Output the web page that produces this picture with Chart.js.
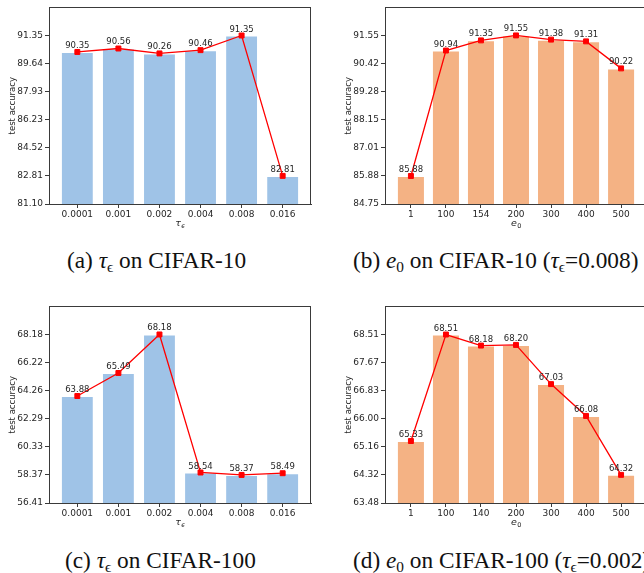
<!DOCTYPE html>
<html>
<head>
<meta charset="utf-8">
<script src="https://cdn.jsdelivr.net/npm/chart.js@4.4.1/dist/chart.umd.min.js"></script>
<style>
  body { margin: 0; background: #fff; width: 644px; height: 573px; overflow: hidden; position: relative; }
  canvas { position: absolute; }
  .cap { position: absolute; font-family: "Liberation Serif", serif; font-size: 23.3px; line-height: 22px; color: #111; white-space: nowrap; }
  .cap sub { font-size: 0.66em; vertical-align: -0.25em; line-height: 0; }
</style>
</head>
<body>
<canvas id="chartA" width="322" height="236" style="left:0;top:0"></canvas>
<canvas id="chartB" width="330" height="236" style="left:322px;top:0"></canvas>
<canvas id="chartC" width="322" height="236" style="left:0;top:299px"></canvas>
<canvas id="chartD" width="330" height="236" style="left:322px;top:299px"></canvas>

<div class="cap" style="left:67px;top:249px">(a) <i>τ</i><sub>ϵ</sub> on CIFAR-10</div>
<div class="cap" style="left:353px;top:249px">(b) <i>e</i><sub>0</sub> on CIFAR-10 (<i>τ</i><sub>ϵ</sub>=0.008)</div>
<div class="cap" style="left:65px;top:549px">(c) <i>τ</i><sub>ϵ</sub> on CIFAR-100</div>
<div class="cap" style="left:353px;top:549px">(d) <i>e</i><sub>0</sub> on CIFAR-100 (<i>τ</i><sub>ϵ</sub>=0.002)</div>

<script>
// ---- data ----
const tauLabels = ["0.0001", "0.001", "0.002", "0.004", "0.008", "0.016"];
const e0Labels10 = ["1", "100", "154", "200", "300", "400", "500"];
const e0Labels100 = ["1", "100", "140", "200", "300", "400", "500"];

const accTau10 = [90.35, 90.56, 90.26, 90.46, 91.35, 82.81];
const accE010 = [85.88, 90.94, 91.35, 91.55, 91.38, 91.31, 90.22];
const accTau100 = [63.88, 65.49, 68.18, 58.54, 58.37, 58.49];
const accE0100 = [65.33, 68.51, 68.18, 68.20, 67.03, 66.08, 64.32];

const ticksTau10 = [81.10, 82.81, 84.52, 86.23, 87.93, 89.64, 91.35];
const ticksE010 = [84.75, 85.88, 87.01, 88.15, 89.28, 90.42, 91.55];
const ticksTau100 = [56.41, 58.37, 60.33, 62.29, 64.26, 66.22, 68.18];
const ticksE0100 = [63.48, 64.32, 65.16, 66.00, 66.83, 67.67, 68.51];

const yMaxTau10 = 93.06;
const yMaxE010 = 92.68;
const yMaxTau100 = 70.14;
const yMaxE0100 = 69.35;

const BLUE = "#9fc3e7";
const ORANGE = "#f4b284";
const AXIS = "#3a3a3a";
const TEXT = "#262626";

// frame, value labels and axis titles
const panelPlugin = {
  id: "panel",
  afterDatasetsDraw(chart) {
    const ctx = chart.ctx;
    const meta = chart.getDatasetMeta(1);
    const vals = chart.data.datasets[1].data;
    ctx.save();
    ctx.font = '8.5px "DejaVu Sans"';
    ctx.fillStyle = TEXT;
    ctx.textAlign = "center";
    ctx.textBaseline = "alphabetic";
    meta.data.forEach((p, i) => ctx.fillText(vals[i].y.toFixed(2), p.x, p.y - 4));
    ctx.restore();
  },
  afterDraw(chart) {
    const ctx = chart.ctx;
    const a = chart.chartArea;
    const o = chart.options.plugins.panel;
    ctx.save();
    ctx.strokeStyle = AXIS;
    ctx.lineWidth = 1;
    ctx.strokeRect(Math.round(a.left) + 0.5, Math.round(a.top) + 0.5,
      Math.round(a.right - a.left) - 1, Math.round(a.bottom - a.top));

    // y title
    ctx.fillStyle = TEXT;
    ctx.font = '8.5px "DejaVu Sans"';
    ctx.textAlign = "center";
    ctx.textBaseline = "middle";
    ctx.translate(a.left - 36, (a.top + a.bottom) / 2);
    ctx.rotate(-Math.PI / 2);
    ctx.fillText("test accuracy", 0, 0);
    ctx.restore();

    // x title with subscript
    ctx.save();
    ctx.fillStyle = TEXT;
    ctx.textBaseline = "alphabetic";
    ctx.textAlign = "left";
    const mainFont = 'italic 9.5px "DejaVu Sans"';
    const subFont = (o.subItalic ? "italic " : "") + '6.5px "DejaVu Sans"';
    ctx.font = mainFont;
    const w1 = ctx.measureText(o.xMain).width;
    ctx.font = subFont;
    const w2 = ctx.measureText(o.xSub).width;
    const x0 = (a.left + a.right) / 2 - (w1 + w2) / 2;
    const yb = a.bottom + 22;
    ctx.font = mainFont;
    ctx.fillText(o.xMain, x0, yb);
    ctx.font = subFont;
    ctx.fillText(o.xSub, x0 + w1 + 0.5, yb + 2);
    ctx.restore();
  }
};

function makePanel(id, labels, values, yTicks, yMax, color, xMain, xSub, subItalic, yWidth, padRight) {
  const n = labels.length;
  const margin = 0.4 + 0.05 * (n - 1 + 0.8);
  const pts = values.map((v, i) => ({ x: i, y: v }));
  return new Chart(document.getElementById(id), {
    type: "bar",
    data: {
      datasets: [
        {
          type: "bar", data: pts, order: 1,
          backgroundColor: color, borderColor: "#ffffff", borderWidth: 1,
          barPercentage: 0.8, categoryPercentage: 1.0
        },
        {
          type: "line", data: pts, order: 0,
          borderColor: "#ff0000", borderWidth: 1.3, backgroundColor: "#ff0000",
          pointStyle: "rect", pointRadius: 3.5, pointBorderWidth: 1,
          pointBorderColor: "#ff0000", tension: 0
        }
      ]
    },
    options: {
      responsive: false,
      animation: false,
      layout: { padding: { top: 6, right: padRight, left: 0, bottom: 0 } },
      plugins: {
        legend: { display: false },
        tooltip: { enabled: false },
        panel: { xMain: xMain, xSub: xSub, subItalic: subItalic }
      },
      scales: {
        x: {
          type: "linear", offset: false,
          min: -margin, max: n - 1 + margin,
          afterBuildTicks: s => { s.ticks = labels.map((_, i) => ({ value: i })); },
          afterFit: s => { s.height = 32; },
          ticks: {
            autoSkip: false, maxRotation: 0, padding: 1, color: TEXT,
            font: { family: "DejaVu Sans", size: 9 },
            callback: v => labels[v]
          },
          grid: { display: true, offset: false, drawOnChartArea: false, drawTicks: true, tickLength: 4, color: AXIS },
          border: { display: true, color: AXIS, width: 1 }
        },
        y: {
          min: yTicks[0], max: yMax,
          afterBuildTicks: s => { s.ticks = yTicks.map(v => ({ value: v })); },
          afterFit: s => { s.width = yWidth; },
          ticks: {
            padding: 2, color: TEXT,
            font: { family: "DejaVu Sans", size: 9 },
            callback: v => Number(v).toFixed(2)
          },
          grid: { display: true, drawOnChartArea: false, drawTicks: true, tickLength: 4, color: AXIS },
          border: { display: true, color: AXIS, width: 1 }
        }
      }
    },
    plugins: [panelPlugin]
  });
}

makePanel("chartA", tauLabels, accTau10, ticksTau10, yMaxTau10, BLUE, "τ", "ϵ", true, 49, 11);
makePanel("chartB", e0Labels10, accE010, ticksE010, yMaxE010, ORANGE, "e", "0", false, 63, 4);
makePanel("chartC", tauLabels, accTau100, ticksTau100, yMaxTau100, BLUE, "τ", "ϵ", true, 49, 11);
makePanel("chartD", e0Labels100, accE0100, ticksE0100, yMaxE0100, ORANGE, "e", "0", false, 63, 4);
</script>
</body>
</html>
